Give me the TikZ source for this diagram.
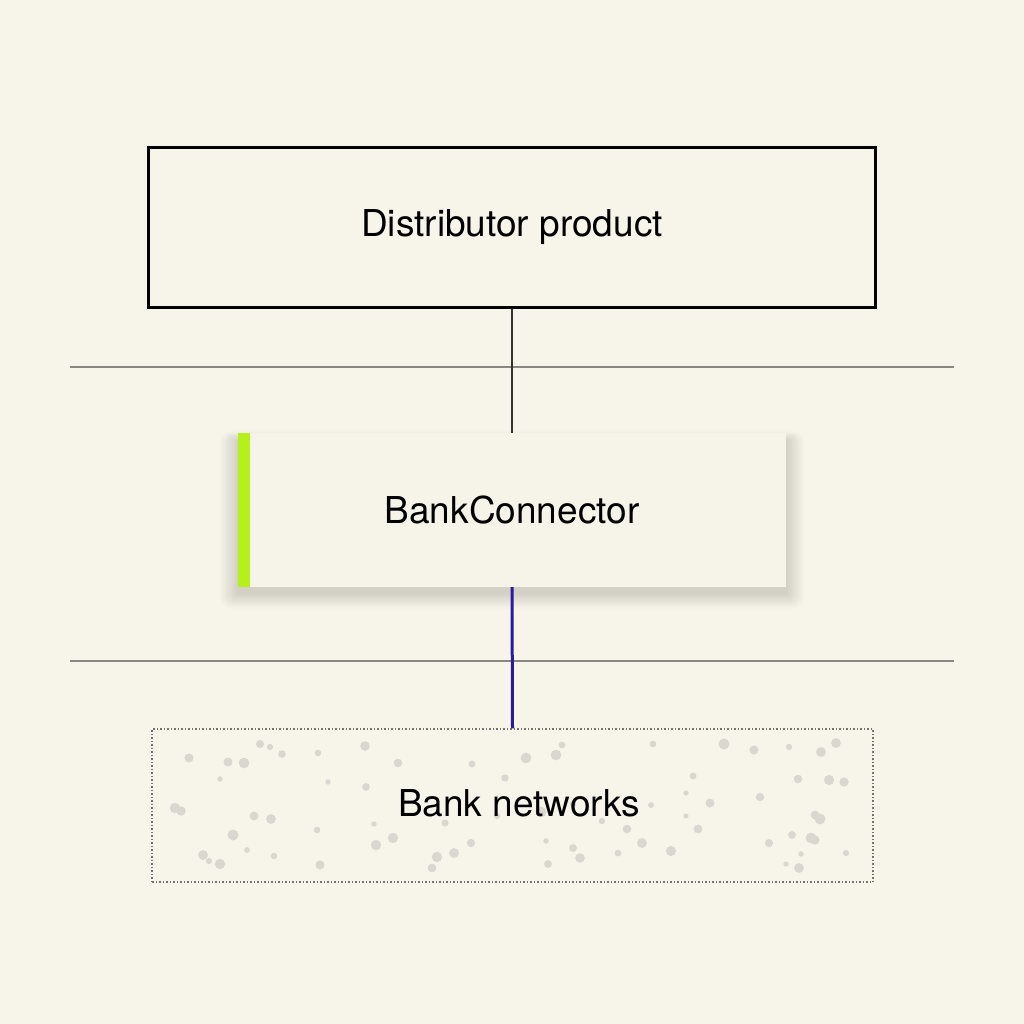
\documentclass[tikz,border=0pt]{standalone}
\usepackage{fontspec}
\setmainfont{TeX Gyre Heros}
\definecolor{bg}{HTML}{F7F4EA}
\definecolor{boxbg}{HTML}{F6F3E9}
\definecolor{rule}{HTML}{8A8782}
\definecolor{lime}{HTML}{B5F01A}
\definecolor{navy}{HTML}{2A1AA0}
\definecolor{dotc}{HTML}{DAD7D0}
\tikzset{
  lbl/.style={font=\fontsize{37}{44}\selectfont, text=black},
  sep/.style={draw=rule, line width=2pt},
}
\begin{document}
\begin{tikzpicture}[x=1pt,y=-1pt]
\fill[bg] (0,0) rectangle (1024,1024);
\useasboundingbox (0,0) rectangle (1024,1024);
% separators
\draw[sep] (70,367) -- (954,367);
\draw[sep] (70,661) -- (954,661);
% top box
\node[draw=black, line width=3pt, minimum width=727pt, minimum height=160pt, lbl] (dist) at (512,227.5) {Distributor product};
% soft shadow
\foreach \k in {1,...,12}{
  \fill[black, opacity=0.012, rounded corners=\k pt] (238-\k*1.5,433+8-\k*0.8) rectangle (786+\k*1.5,587+6+\k*1.3);
}
% middle box
\node[fill=boxbg, minimum width=548pt, minimum height=154pt, lbl] (bc) at (512,510) {BankConnector};
\fill[lime] (bc.north west) rectangle ([xshift=12pt]bc.south west);
% bottom dotted box
\node[draw=black!55, dotted, line width=1.5pt, minimum width=721pt, minimum height=153pt] (bn) at (512.5,805.5) {};
\pgfmathsetseed{7}
\foreach \i in {1,...,75}{
  \pgfmathsetmacro{\px}{170+random(0,680)}
  \pgfmathsetmacro{\py}{742+random(0,126)}
  \pgfmathsetmacro{\pr}{2.5+random(0,30)/10}
  \fill[dotc] (\px,\py) circle (\pr pt);
}
\node[lbl] (bnl) at (519,803) {Bank networks};
% connectors
\draw[black!80, line width=2.5pt] (dist.south) -- (bc.north);
\draw[navy, line width=3pt] (bc.south) -- (bn.north);
\end{tikzpicture}
\end{document}
